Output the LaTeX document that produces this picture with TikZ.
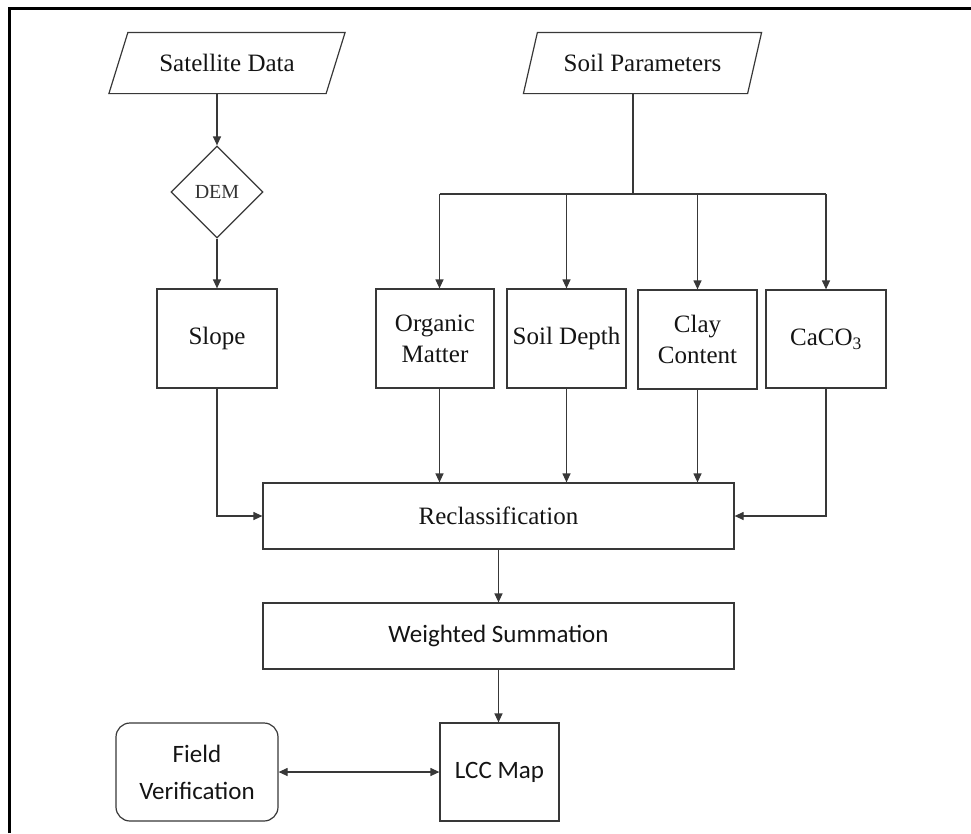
\documentclass[tikz,border=0pt]{standalone}
\usepackage{fontspec}
\setmainfont{Liberation Serif}
\newfontfamily\calibri{Carlito}
\usetikzlibrary{shapes.geometric,arrows.meta}
\begin{document}
\begin{tikzpicture}[x=1pt,y=-1pt,
  box/.style={draw=black!78, line width=1.2pt, inner sep=0pt, align=center,
              font=\fontsize{25}{31}\selectfont, text=black!92},
  ln/.style={draw=black!78, line width=1.2pt},
  arr/.style={ln, -{Triangle[length=9pt,width=8pt]}},
  arrboth/.style={ln, {Triangle[length=9pt,width=8pt]}-{Triangle[length=9pt,width=8pt]}},
  sans/.style={font=\calibri\fontsize{25}{31}\selectfont}
]
\useasboundingbox (0,0) rectangle (971,833);
\draw[line width=3pt] (9.5,833) -- (9.5,8) -- (971,8);

% input parallelograms
\node[box, draw=none, minimum width=216pt, minimum height=60pt] (sat) at (227,63) {Satellite Data};
\draw[ln] ([xshift=9.5pt]sat.north west) -- ([xshift=9.5pt]sat.north east)
  -- ([xshift=-9.5pt]sat.south east) -- ([xshift=-9.5pt]sat.south west) -- cycle;
\node[box, draw=none, minimum width=223pt, minimum height=60pt] (soil) at (642.5,63) {Soil Parameters};
\draw[ln] ([xshift=7pt]soil.north west) -- ([xshift=7pt]soil.north east)
  -- ([xshift=-7pt]soil.south east) -- ([xshift=-7pt]soil.south west) -- cycle;

% DEM
\node[diamond, draw=black!78, line width=1.2pt, inner sep=0pt, minimum width=92pt, minimum height=92pt,
      font=\fontsize{20}{24}\selectfont, text=black!80] (dem) at (217,192) {DEM};

% parameter boxes
\node[box, minimum width=120pt, minimum height=99pt] (slope) at (217,338.5) {Slope};
\node[box, minimum width=118pt, minimum height=99pt] (org) at (435,338.5) {Organic\\Matter};
\node[box, minimum width=119pt, minimum height=99pt] (depth) at (566.5,338.5) {Soil Depth};
\node[box, minimum width=119pt, minimum height=99pt] (clay) at (697.5,339.5) {Clay\\Content};
\node[box, minimum width=120pt, minimum height=98pt] (caco) at (826,339) {CaCO\textsubscript{3}};

% processing
\node[box, minimum width=471pt, minimum height=66pt] (rec) at (498.5,516) {Reclassification};
\node[box, sans, minimum width=471pt, minimum height=66pt] (wsum) at (498.5,636) {Weighted Summation};
\node[box, sans, minimum width=119pt, minimum height=98pt] (lcc) at (499.5,772) {LCC Map};
\node[box, minimum width=162pt, minimum height=98pt, rounded corners=14pt,
      font=\calibri\fontsize{25}{37}\selectfont] (field) at (197,772) {Field\\Verification};

% connectors top
\draw[arr] (dem.north |- sat.south) -- (dem.north);
\draw[arr] (dem.south) -- (slope.north);
\coordinate (bus) at (633,194);
\coordinate (busL) at (439.5,194);
\coordinate (busR) at (826,194);
\draw[ln] (bus |- soil.south) -- (bus);
\draw[ln] (busL) -- (busR);
\draw[arr] (busL) -- (busL |- org.north);
\draw[arr] (depth.north |- busL) -- (depth.north);
\draw[arr] (clay.north |- busL) -- (clay.north);
\draw[arr] (busR) -- (caco.north);

% connectors to reclassification
\draw[arr] (busL |- org.south) -- (busL |- rec.north);
\draw[arr] (depth.south) -- (depth.south |- rec.north);
\draw[arr] (clay.south) -- (clay.south |- rec.north);
\draw[arr] (slope.south) |- (rec.west);
\draw[arr] (caco.south) |- (rec.east);

% lower chain
\draw[arr] (rec.south) -- (wsum.north);
\draw[arr] (wsum.south) -- (wsum.south |- lcc.north);
\draw[arrboth] (field.east) -- (lcc.west);
\end{tikzpicture}
\end{document}
